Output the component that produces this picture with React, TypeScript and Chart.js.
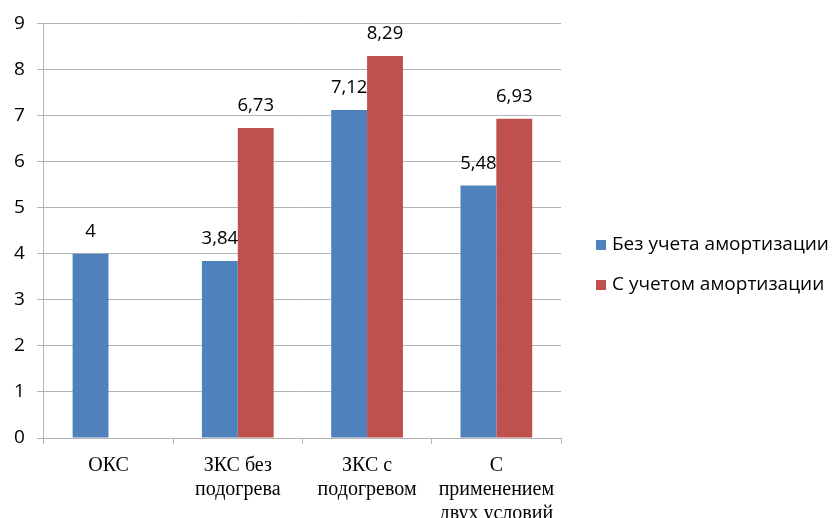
import React, { useEffect, useRef } from "react";
import { Chart, registerables } from "chart.js";

Chart.register(...registerables);

const categories: string[][] = [
  ["ОКС"],
  ["ЗКС без", "подогрева"],
  ["ЗКС с", "подогревом"],
  ["С", "применением", "двух условий"],
];
const seriesNames = ["Без учета амортизации", "С учетом амортизации"];
const seriesColors = ["#4F81BD", "#C0504D"];
const withoutAmort: (number | null)[] = [4, 3.84, 7.12, 5.48];
const withAmort: (number | null)[] = [null, 6.73, 8.29, 6.93];
const yTicks = { min: 0, max: 9, step: 1 };

const valueLabels = {
  id: "valueLabels",
  afterDatasetsDraw(chart: any) {
    const ctx = chart.ctx;
    ctx.save();
    ctx.font = '18.5px "Open Sans"';
    ctx.fillStyle = "#000";
    ctx.textAlign = "center";
    ctx.textBaseline = "middle";
    chart.data.datasets.forEach((ds: any, i: number) => {
      const meta = chart.getDatasetMeta(i);
      meta.data.forEach((el: any, j: number) => {
        const v = ds.data[j];
        if (v === null || v === undefined) return;
        ctx.fillText(String(v).replace(".", ","), el.x, el.y - 22);
      });
    });
    ctx.restore();
  },
};

const sideLegend = {
  id: "sideLegend",
  afterDraw(chart: any) {
    const ctx = chart.ctx;
    const x0 = chart.chartArea.right + 35;
    const yMid = 265;
    const gap = 40;
    ctx.save();
    ctx.font = '19px "Open Sans"';
    ctx.textAlign = "left";
    ctx.textBaseline = "middle";
    chart.data.datasets.forEach((ds: any, i: number) => {
      const y = yMid + (i - (chart.data.datasets.length - 1) / 2) * gap;
      ctx.fillStyle = ds.backgroundColor;
      ctx.fillRect(x0, y - 5, 10, 10);
      ctx.fillStyle = "#000";
      ctx.fillText(ds.label, x0 + 16, y);
    });
    ctx.restore();
  },
};

export default function App() {
  const ref = useRef<HTMLCanvasElement>(null);
  useEffect(() => {
    document.body.style.margin = "0";
    const chart = new Chart(ref.current!, {
      type: "bar",
      data: {
        labels: categories,
        datasets: [
          { label: seriesNames[0], data: withoutAmort, backgroundColor: seriesColors[0] },
          { label: seriesNames[1], data: withAmort, backgroundColor: seriesColors[1] },
        ],
      },
      options: {
        responsive: false,
        animation: false,
        layout: { padding: { left: 2, top: 12, right: 271, bottom: -18 } },
        datasets: { bar: { categoryPercentage: 0.555, barPercentage: 1 } } as any,
        plugins: {
          tooltip: { enabled: false },
          legend: { display: false },
        },
        scales: {
          x: {
            grid: {
              offset: true,
              drawOnChartArea: false,
              drawTicks: true,
              tickLength: 6,
              color: "#b3b3b3",
            },
            border: { color: "#b3b3b3" },
            ticks: {
              color: "#000",
              padding: 10,
              font: { family: "Liberation Serif", size: 20, lineHeight: 1.2 },
              maxRotation: 0,
              autoSkip: false,
            },
          },
          y: {
            min: yTicks.min,
            max: yTicks.max,
            grid: { color: "#b3b3b3", tickLength: 7 },
            border: { color: "#b3b3b3" },
            ticks: {
              stepSize: yTicks.step,
              color: "#000",
              padding: 12,
              font: { family: "Open Sans", size: 19 },
            },
          },
        },
      },
      plugins: [valueLabels, sideLegend],
    });
    return () => chart.destroy();
  }, []);
  return (
    <div style={{ position: "fixed", left: 0, top: 0, width: 832, height: 518, overflow: "hidden", background: "#fff" }}>
      <canvas ref={ref} width={832} height={518} />
    </div>
  );
}
